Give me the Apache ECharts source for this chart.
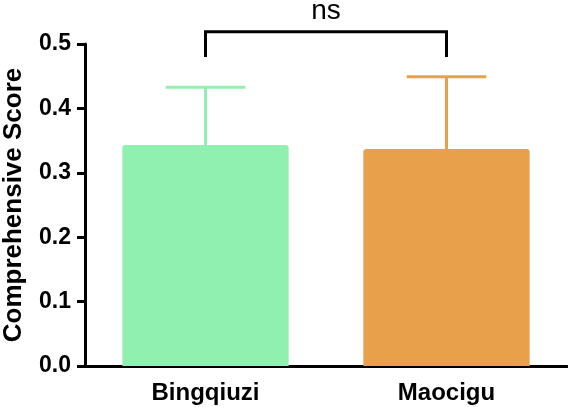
<!DOCTYPE html>
<html>
<head>
<meta charset="utf-8">
<script src="https://cdn.jsdelivr.net/npm/echarts@6/dist/echarts.min.js"></script>
<style>
html,body{margin:0;padding:0;background:#fff;}
#chart{width:568px;height:407px;}
</style>
</head>
<body>
<div id="chart"></div>
<script>
var categories = ['Bingqiuzi', 'Maocigu'];
var means = [0.343, 0.337];
var errorTops = [0.433, 0.449];
var barColors = ['#90F0B0', '#E8A04B'];
var yTicks = [0, 0.1, 0.2, 0.3, 0.4, 0.5];
var bracket = { from: 0, to: 1, level: 0.519, foot: 0.48, labelLevel: 0.551, label: 'ns' };
var yAxisTitle = 'Comprehensive Score';

var FONT = '"Liberation Sans", Arial, sans-serif';
var chart = echarts.init(document.getElementById('chart'), null, { renderer: 'canvas' });

var option = {
  animation: false,
  backgroundColor: '#ffffff',
  grid: { left: 85, right: 1, top: 44, bottom: 41, containLabel: false, outerBoundsMode: 'none' },
  xAxis: {
    type: 'category',
    data: categories,
    axisLine: { lineStyle: { color: '#000', width: 3 } },
    axisTick: { alignWithLabel: true, length: 8, lineStyle: { color: '#000', width: 3 } },
    axisLabel: { color: '#000', fontFamily: FONT, fontWeight: 'bold', fontSize: 24, margin: 15 }
  },
  yAxis: {
    type: 'value',
    min: yTicks[0],
    max: yTicks[yTicks.length - 1],
    interval: 0.1,
    name: yAxisTitle,
    nameLocation: 'middle',
    nameGap: 58,
    nameTextStyle: { color: '#000', fontFamily: FONT, fontWeight: 'bold', fontSize: 26 },
    axisLine: { show: true, lineStyle: { color: '#000', width: 3 } },
    axisTick: { show: true, length: 8, lineStyle: { color: '#000', width: 3 } },
    splitLine: { show: false },
    axisLabel: {
      color: '#000', fontFamily: FONT, fontWeight: 'bold', fontSize: 23, margin: 14,
      formatter: function (v) { return v.toFixed(1); }
    }
  },
  series: [
    {
      type: 'bar',
      barWidth: '69%',
      data: means.map(function (v, i) {
        return { value: v, itemStyle: { color: barColors[i], borderRadius: [3, 3, 0, 0] } };
      }),
      z: 2
    },
    {
      type: 'custom',
      z: 3,
      clip: false,
      data: means.map(function (v, i) { return [i, v, errorTops[i]]; }),
      renderItem: function (params, api) {
        var i = api.value(0);
        var p0 = api.coord([i, api.value(1)]);
        var p1 = api.coord([i, api.value(2)]);
        var half = api.size([1, 0])[0] * 0.165;
        var col = barColors[i];
        return {
          type: 'group',
          children: [
            { type: 'line', shape: { x1: p0[0], y1: p0[1], x2: p1[0], y2: p1[1] }, style: { stroke: col, lineWidth: 3 } },
            { type: 'line', shape: { x1: p1[0] - half, y1: p1[1], x2: p1[0] + half, y2: p1[1] }, style: { stroke: col, lineWidth: 3 } }
          ]
        };
      }
    },
    {
      type: 'custom',
      z: 4,
      clip: false,
      data: [[bracket.from, bracket.to, bracket.level, bracket.foot, bracket.labelLevel]],
      renderItem: function (params, api) {
        var a = api.coord([api.value(0), api.value(2)]);
        var b = api.coord([api.value(1), api.value(2)]);
        var fa = api.coord([api.value(0), api.value(3)]);
        var fb = api.coord([api.value(1), api.value(3)]);
        var lab = api.coord([(api.value(0) + api.value(1)) / 2, api.value(4)]);
        var mid = (a[0] + b[0]) / 2;
        return {
          type: 'group',
          children: [
            { type: 'polyline', shape: { points: [[fa[0], fa[1]], [a[0], a[1]], [b[0], b[1]], [fb[0], fb[1]]] },
              style: { stroke: '#000', lineWidth: 3, fill: null, lineJoin: 'miter' } },
            { type: 'text', x: mid, y: lab[1],
              style: { text: bracket.label, fill: '#000', font: '28px ' + FONT, textAlign: 'center', textVerticalAlign: 'middle' } }
          ]
        };
      }
    }
  ]
};
chart.setOption(option);
</script>
</body>
</html>
